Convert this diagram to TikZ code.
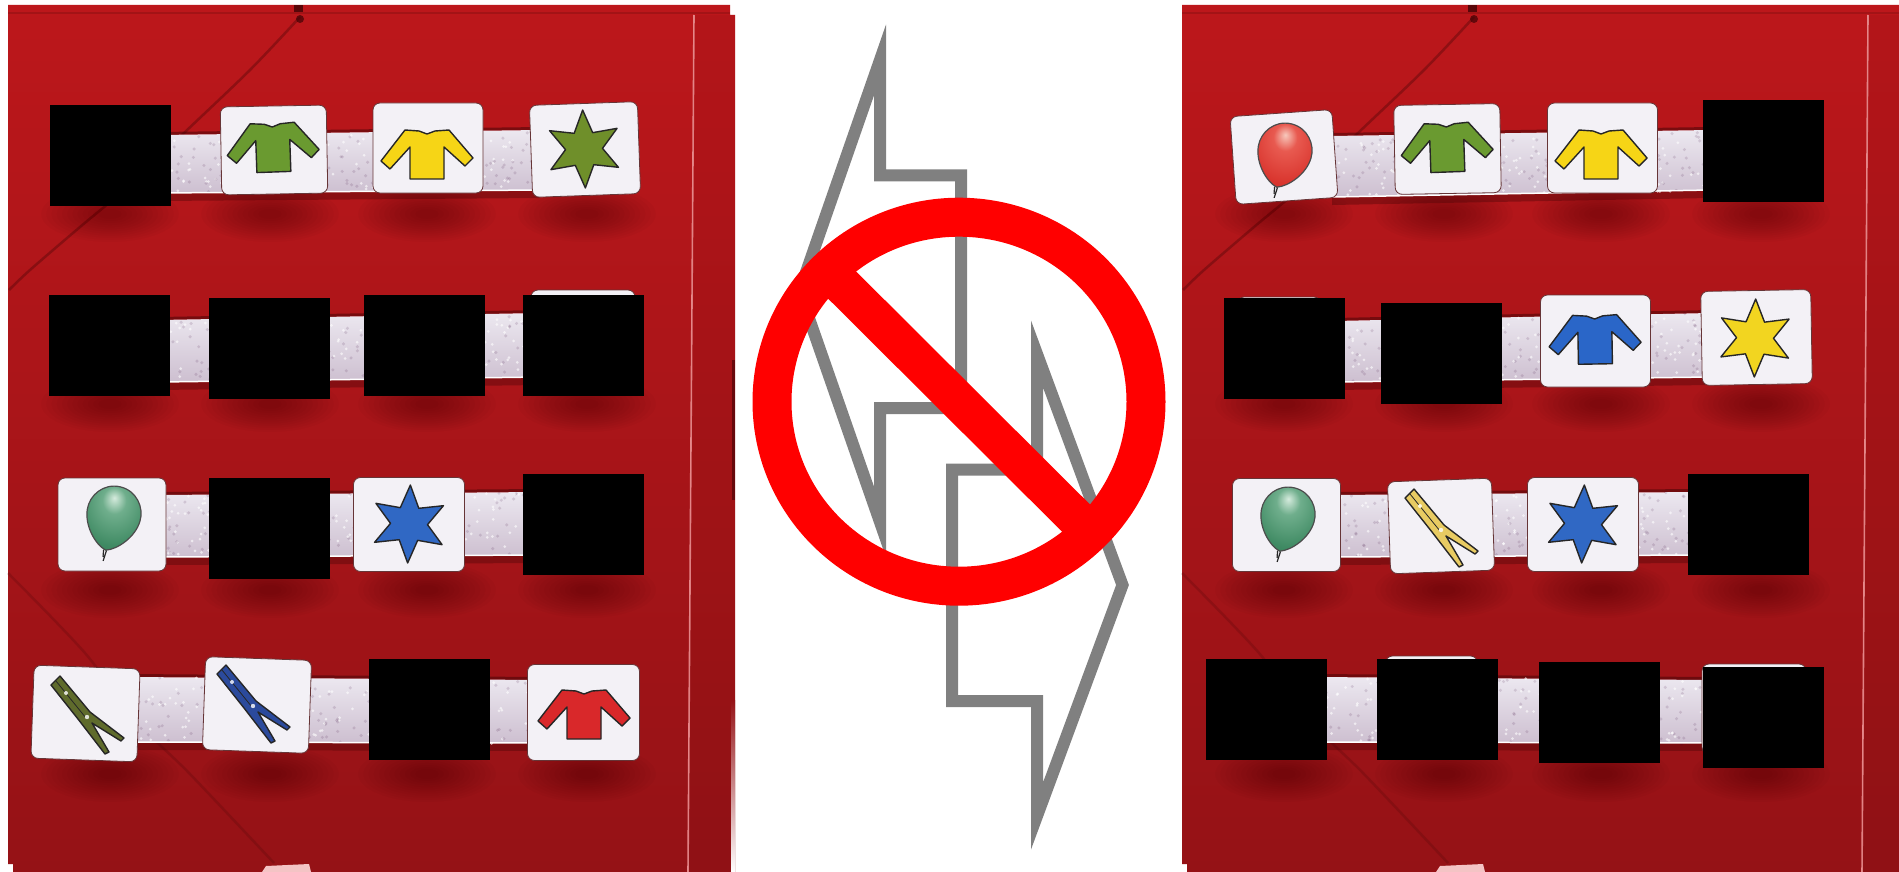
\documentclass[tikz,border=0pt]{standalone}
\usepackage{xcolor}
\usepackage{tikz}
\usetikzlibrary{calc}
\definecolor{boardtop}{HTML}{BC171B}
\definecolor{boardmid}{HTML}{B01418}
\definecolor{boardlow}{HTML}{951216}
\definecolor{boardfold}{HTML}{E8888A}
\definecolor{boarddark}{HTML}{400305}
\definecolor{shirtgreen}{HTML}{6A9A30}
\definecolor{shirtyellow}{HTML}{F6D516}
\definecolor{shirtblue}{HTML}{2A66C8}
\definecolor{shirtred}{HTML}{D9282A}
\definecolor{stargreen}{HTML}{6F8F2A}
\definecolor{staryellow}{HTML}{F2D520}
\definecolor{starblue}{HTML}{3068C4}
\definecolor{pegolive}{HTML}{5F6B2C}
\definecolor{pegblue}{HTML}{2B4A9C}
\definecolor{pegyellow}{HTML}{E8CB62}
\definecolor{tilewhite}{HTML}{F3F1F6}
\definecolor{foamtop}{HTML}{ECE8F0}
\definecolor{foammid}{HTML}{DCD1DE}
\definecolor{foamlow}{HTML}{CDBFD0}
\definecolor{greenlight}{HTML}{D5EBDD}
\definecolor{greenmid}{HTML}{6FAE8C}
\definecolor{greenlow}{HTML}{3F8A63}
\definecolor{greenedge}{HTML}{2E6B4A}
\definecolor{redlight}{HTML}{F7C8BC}
\definecolor{redmid}{HTML}{E85A50}
\definecolor{redlow}{HTML}{D9352E}
\definecolor{rededge}{HTML}{B82A24}
\pgfdeclareradialshading{balloonred}{\pgfpoint{0bp}{14bp}}{color(0bp)=(redlight);color(10bp)=(redmid);color(30bp)=(redlow);color(50bp)=(rededge);color(70bp)=(rededge)}
\pgfdeclareradialshading{balloongreen}{\pgfpoint{0bp}{14bp}}{color(0bp)=(greenlight);color(10bp)=(greenmid);color(30bp)=(greenlow);color(50bp)=(greenedge);color(70bp)=(greenedge)}
\tikzset{
 tile/.style={fill=tilewhite,rounded corners=7,inner sep=0,draw=boarddark!80,line width=.8},
 hidebox/.style={fill=black,inner sep=0,minimum width=121,minimum height=101},
 bolt/.style={draw=black!50,line width=12,line join=miter,miter limit=10},
 nosign/.style={draw=red,line width=39},
 crease/.style={draw=boarddark,line width=2.5,opacity=.35},
 icon/.style={draw=black!85,line width=1.4,line join=round}
}
% one board with its creases and the soft shadows of the four rows
\newcommand{\redboard}[2]{
\begin{scope}[shift={(#1,0)}]
\shade[top color=boardtop,middle color=boardmid,bottom color=boardlow]
 (8,5)--(#2-5,5)--(#2-5,15)--(#2,15)--(#2,872)--(13,872)--(13,864)--(8,864)--cycle;
\draw[crease,opacity=.2](8,13)--(#2-5,13);
\draw[crease]plot[smooth]coordinates{(300,17)(250,70)(184,133)(130,185)(80,227)(30,270)(9,290)};
\draw[crease,opacity=.2]plot[smooth]coordinates{(8,573)(85,653)(135,720)(189,773)(274,863)};
\fill[boarddark,opacity=.8](294,5)rectangle(303,12);\fill[boarddark,opacity=.7](300,19)circle(4);
\fill[boardfold!50!white](262,872)--(266,866)--(309,864)--(311,872)--cycle;
\draw[boardfold,line width=1.6](694,15)--(688,872);
\fill[boarddark,opacity=.06](694,15)--(#2,15)--(#2,872)--(688,872)--cycle;
\foreach \sy in {214,404,590,774}{\foreach \sx in {110,270,427,587}{
 \foreach \r in {1,...,12}{\fill[boarddark,opacity=.035](\sx,\sy)ellipse[x radius=74-5.2*\r,y radius=30-2.1*\r];}}}
\end{scope}}
% foam strip between the tiles
\newcommand{\foamstrip}[6]{
\fill[boarddark,opacity=.35](#1,#3)--(#4,#6)--(#4,#6+8)--(#1,#3+8)--cycle;
\fill[boarddark,opacity=.5](#1,#2-3)--(#4,#5-3)--(#4,#5)--(#1,#2)--cycle;
\shade[top color=foamtop,middle color=foammid,bottom color=foamlow](#1,#2)--(#4,#5)--(#4,#6)--(#1,#3)--cycle;
\foreach \k in {1,...,130}{\pgfmathsetmacro{\sa}{rnd}\pgfmathsetmacro{\sb}{rnd}
 \pgfmathsetmacro{\px}{#1+\sa*(#4-#1)}\pgfmathsetmacro{\py}{#2+\sa*(#5-#2)+\sb*(#3-#2)}
 \fill[white,opacity=.6](\px,\py)circle(1.5);
 \pgfmathsetmacro{\px}{#1+\sb*(#4-#1)}\pgfmathsetmacro{\py}{#2+\sb*(#5-#2)+\sa*(#3-#2)}
 \fill[black!60!violet,opacity=.13](\px,\py)circle(1.7);}
\draw[white,line width=1.5](#1,#3)--(#4,#6);}
\newcommand{\shirtico}[4]{
\draw[icon,fill=#3,shift={(#1,#2)},rotate=#4](-8,-23)--(0,-20)--(8,-23)--(22,-24)--(46,4)--(38,12)--(17,-7)--(17,25)--(-17,25)--(-17,-7)--(-37,15)--(-46,7)--(-22,-24)--cycle;}
\newcommand{\starico}[4]{
\draw[icon,fill=#3,shift={(#1,#2)},rotate=#4](90:39)\foreach \a in {120,180,...,420}{--(\a:18.5)--(\a+30:39)}--cycle;}
\newcommand{\balloonico}[4]{
\begin{scope}[shift={(#1,#2)},rotate=#4]
\draw[black!85,line width=1.2](-2,33)--(-1,40)(1,33)--(0,44);
\draw[black!70,line width=1.2,shading=#3](0,-32)..controls(17,-32)and(28,-17)..(27,-3)..controls(26,14)and(11,30)..(0,33)..controls(-11,30)and(-26,14)..(-27,-3)..controls(-28,-17)and(-17,-32)..cycle;
\end{scope}}
\newcommand{\pegico}[3]{
\begin{scope}[shift={(#1,#2)}]
\draw[icon,fill=#3](0,0)--(30,36)--(64,62)--(61,65)--(32,47)--(49,76)--(45,78)--(18,43)--(-9,9)--cycle;
\draw[icon,line width=.8](-4,5)--(26,42);
\fill[white!80!#3](6,17)circle(2);\fill[white!80!#3](27,41)circle(2.2);
\end{scope}}
\begin{document}
\begin{tikzpicture}[x=1pt,y=-1pt]
\useasboundingbox(0,0)rectangle(1899,872);
\clip(0,0)rectangle(1899,872);
\fill[white](0,0)rectangle(1899,872);
\pgfmathsetseed{14}
\redboard{0}{735}
\redboard{1174}{730}
\fill[boarddark,opacity=.6](732,360)rectangle(735,500);
\shade[top color=boardlow,bottom color=white](731,700)rectangle(735,872);
% strips
\foamstrip{160}{135}{193}{540}{130}{190}
\foamstrip{160}{320}{382}{540}{313}{377}
\foamstrip{160}{495}{557}{540}{492}{555}
\foamstrip{130}{677}{742}{540}{680}{743}
\foamstrip{1332}{136}{197}{1710}{130}{190}
\foamstrip{1335}{321}{382}{1710}{313}{377}
\foamstrip{1335}{495}{557}{1695}{492}{555}
\foamstrip{1315}{677}{742}{1710}{680}{743}
% tiles, left
\node[tile,minimum width=106,minimum height=88,rotate=1](la2)at(274,150){};
\node[tile,minimum width=110,minimum height=90](la3)at(428,148){};
\node[tile,minimum width=108,minimum height=92,rotate=2](la4)at(585,149.5){};
\node[tile,minimum width=104,minimum height=96](lb4)at(583,338){};
\node[tile,minimum width=108,minimum height=93](lc1)at(112,524.5){};
\node[tile,minimum width=111,minimum height=94](lc3)at(409,524.5){};
\node[tile,minimum width=106,minimum height=93,rotate=-2](ld1)at(85.5,713.5){};
\node[tile,minimum width=106,minimum height=93,rotate=-2](ld2)at(257,705){};
\node[tile,minimum width=112,minimum height=96](ld4)at(583.5,712.5){};
% tiles, right
\node[tile,minimum width=102,minimum height=88,rotate=4](ra1)at(1284,157){};
\node[tile,minimum width=106,minimum height=89,rotate=1](ra2)at(1447.5,149){};
\node[tile,minimum width=110,minimum height=90](ra3)at(1602.5,148){};
\node[tile,minimum width=84,minimum height=90](rb1)at(1279,342){};
\node[tile,minimum width=110,minimum height=92](rb3)at(1595.5,341){};
\node[tile,minimum width=110,minimum height=94,rotate=1](rb4)at(1756.5,337.5){};
\node[tile,minimum width=108,minimum height=93](rc1)at(1286.5,525){};
\node[tile,minimum width=104,minimum height=92,rotate=2](rc2)at(1441,526){};
\node[tile,minimum width=111,minimum height=94](rc3)at(1583,524.5){};
\node[tile,minimum width=92,minimum height=60](rd2)at(1431.5,686){};
\node[tile,minimum width=104,minimum height=90](rd4)at(1754,709){};
% icons
\shirtico{273}{147}{shirtgreen}{2}
\shirtico{427}{154}{shirtyellow}{0}
\starico{584}{149}{stargreen}{2}
\balloonico{113}{518}{balloongreen}{-13}
\starico{409}{524}{starblue}{-2}
\pegico{60}{676}{pegolive}
\pegico{226}{665}{pegblue}
\shirtico{584}{714}{shirtred}{0}
\balloonico{1284}{155}{balloonred}{-13}
\shirtico{1447}{147}{shirtgreen}{2}
\shirtico{1601}{154}{shirtyellow}{0}
\shirtico{1595}{339}{shirtblue}{1}
\starico{1755}{338}{staryellow}{-1}
\balloonico{1287}{519}{balloongreen}{-13}
\pegico{1414}{489}{pegyellow}
\starico{1583}{524}{starblue}{-2}
% hidden tiles
\node[hidebox](lah)at(110.5,155.5){};
\node[hidebox](lb1)at(109,345.5){};
\node[hidebox](lb2)at(269.5,348.5){};
\node[hidebox](lb3)at(424.5,345.5){};
\node[hidebox](lbh)at(583.5,345.5){};
\node[hidebox](lc2)at(269.5,528.5){};
\node[hidebox](lc4)at(583.5,524.5){};
\node[hidebox](ld3)at(429,709.5){};
\node[hidebox](ra4)at(1763.5,151){};
\node[hidebox](rbh)at(1284.5,348.5){};
\node[hidebox](rb2)at(1441.5,353.5){};
\node[hidebox](rc4)at(1748.5,524.5){};
\node[hidebox](rd1)at(1266.5,709.5){};
\node[hidebox](rdh)at(1437.5,709.5){};
\node[hidebox](rd3)at(1599.5,712.5){};
\node[hidebox](rdg)at(1763.5,717.5){};
% two bolts under the sign
\draw[bolt](880,60)--(880,175.5)--(961,175.5)--(961,408)--(880,408)--(880,522)--(799.5,291)--cycle;
\draw[bolt](1037,354)--(1037,469.5)--(952,469.5)--(952,701)--(1037,701)--(1037,816)--(1122.5,585)--cycle;
\draw[nosign](959,401.7)ellipse[x radius=187,y radius=184.5];
\draw[nosign,line cap=butt](828,271)--(1090,532);
\end{tikzpicture}
\end{document}
